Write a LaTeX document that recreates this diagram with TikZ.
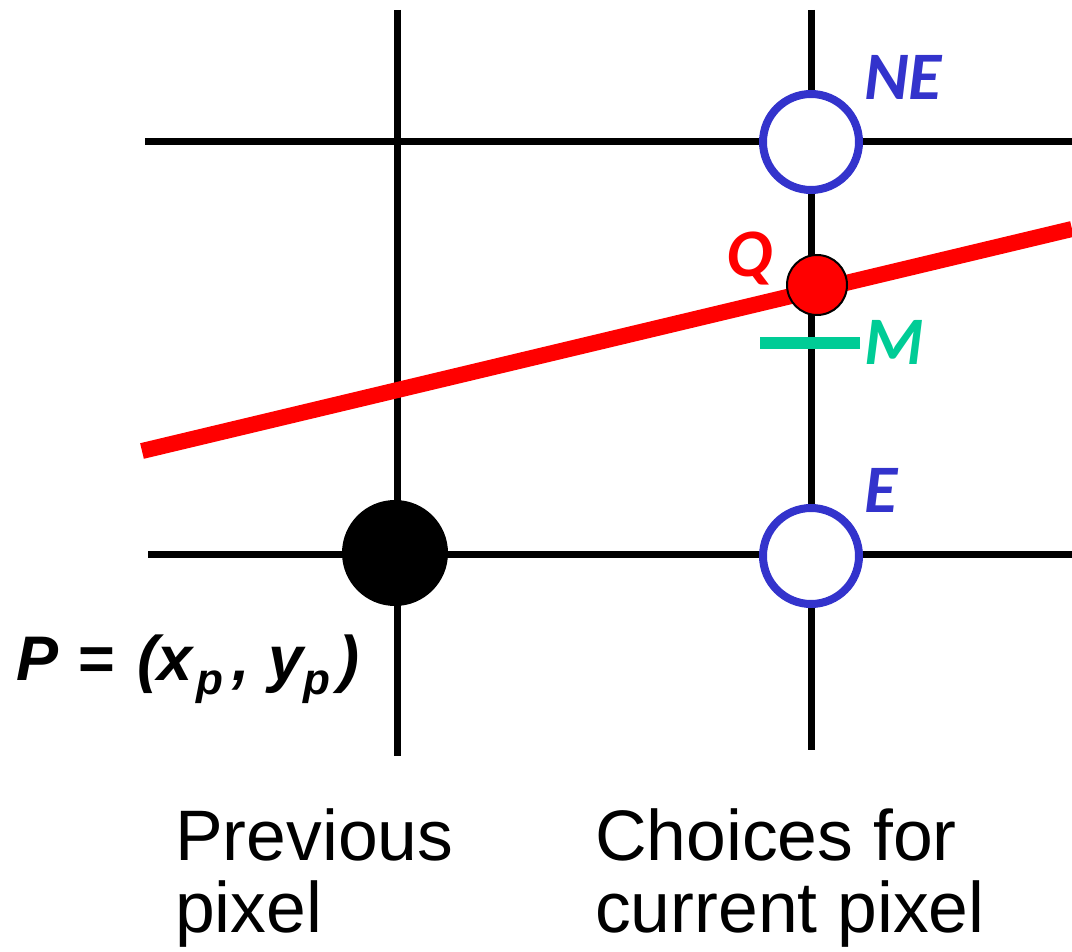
\documentclass[tikz,border=0pt]{standalone}
\usepackage{fontspec}
\setmainfont{Liberation Sans}
\newfontfamily\labfont{Carlito}
\newfontfamily\pfont{Liberation Sans}
\definecolor{pixblue}{RGB}{51,51,204}
\definecolor{linered}{RGB}{255,0,0}
\definecolor{midgreen}{RGB}{0,204,150}
\begin{document}
\begin{tikzpicture}[x=1pt,y=-1pt,
  gridline/.style={line width=7pt,black},
  choice/.style={circle,draw=pixblue,line width=8pt,fill=white,minimum size=96pt,inner sep=0pt},
  prevdot/.style={circle,fill=black,minimum size=106pt,inner sep=0pt},
  qdot/.style={circle,draw=black,line width=2pt,fill=linered,minimum size=60pt,inner sep=0pt},
  lab/.style={anchor=base west,inner sep=0pt,font=\labfont\fontsize{68}{80}\selectfont\bfseries\itshape},
  caption/.style={anchor=base west,inner sep=0pt,align=left,font=\fontsize{71.5}{72}\selectfont}]
\useasboundingbox (0,0) rectangle (1072,952);
% grid
\coordinate (v1t) at (397,10);  \coordinate (v1b) at (397,756);
\coordinate (v2t) at (811,10);  \coordinate (v2b) at (811,750);
\coordinate (h1l) at (145,142); \coordinate (h1r) at (1072,142);
\coordinate (h2l) at (148,554); \coordinate (h2r) at (1072,554);
\draw[gridline] (v1t) -- (v1b);
\draw[gridline] (v2t) -- (v2b);
\draw[gridline] (h1l) -- (h1r);
\draw[gridline] (h2l) -- (h2r);
% line
\coordinate (rl) at (142,451);
\coordinate (rr) at (1072,229);
\draw[linered,line width=16pt] (rl) -- (rr);
% midpoint bar
\coordinate (ml) at (760,343);
\coordinate (mr) at (860,343);
\draw[midgreen,line width=12pt] (ml) -- (mr);
% pixels
\node[prevdot] (P) at (395,553) {};
\node[choice] (NE) at (811,142) {};
\node[choice] (E) at (811,556) {};
\node[qdot] (Q) at (817,285) {};
% labels
\node[lab,text=pixblue] (neL) at (864,100) {NE};
\node[lab,text=linered] (qL) at (726,277) {Q};
\node[lab,text=midgreen] (mL) at (864,365) {M};
\node[lab,text=pixblue] (eL) at (864,512) {E};
\node[anchor=base west,inner sep=0pt,font=\pfont\fontsize{63}{70}\selectfont\bfseries\itshape] (pL) at (16,680)
  {P\hspace{20pt}{\upshape=}\hspace{22pt}(x\hspace{3pt}\raisebox{-14pt}{\fontsize{44}{44}\selectfont p}\hspace{10pt},\hspace{18pt}y\hspace{0pt}\raisebox{-14pt}{\fontsize{44}{44}\selectfont p}\hspace{8pt})};
\node[caption] (prev) at (175,932) {Previous\\pixel};
\node[caption] (cur) at (595,932) {Choices for\\current pixel};
\end{tikzpicture}
\end{document}
